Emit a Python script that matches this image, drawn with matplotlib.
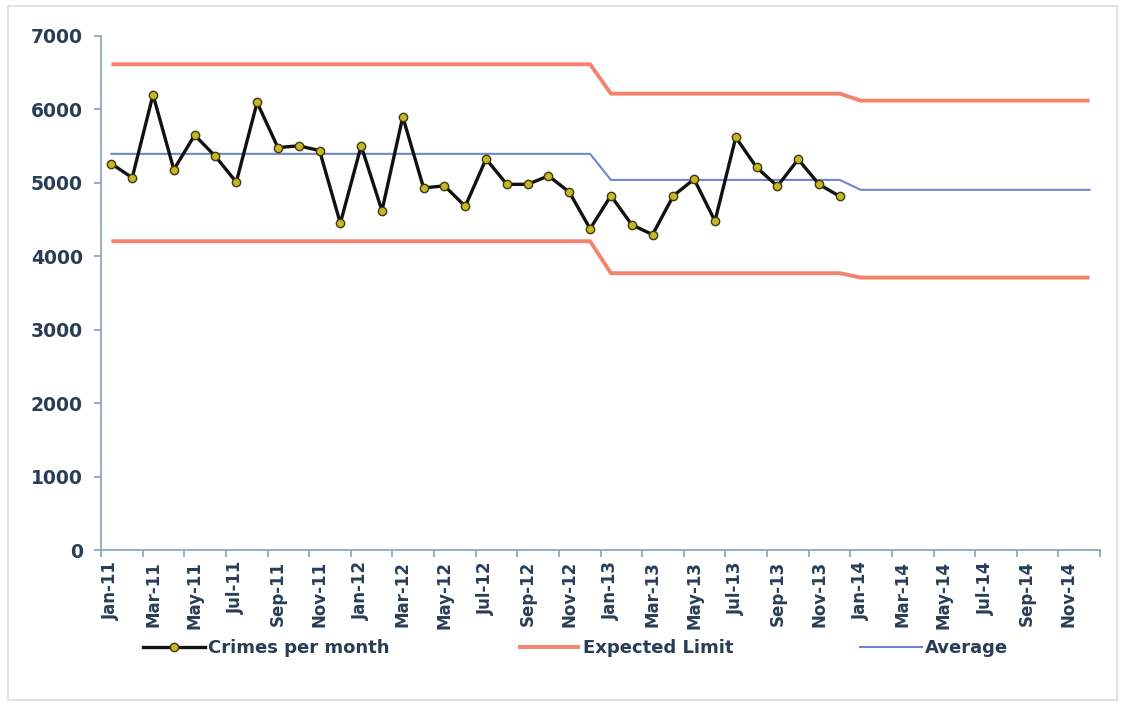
import matplotlib
matplotlib.use("Agg")
import matplotlib.pyplot as plt
from matplotlib.patches import Rectangle

plt.rcParams['font.family'] = ['DejaVu Sans']

months = ['Jan', 'Feb', 'Mar', 'Apr', 'May', 'Jun', 'Jul', 'Aug', 'Sep', 'Oct', 'Nov', 'Dec']
years = ['11', '12', '13', '14']
categories = [f"{m}-{y}" for y in years for m in months]

crimes = [5260, 5070, 6200, 5180, 5650, 5360, 5010, 6095, 5480, 5505, 5440, 4450,
          5505, 4620, 5900, 4930, 4960, 4680, 5325, 4980, 4980, 5095, 4875, 4375,
          4825, 4430, 4295, 4825, 5050, 4480, 5620, 5210, 4955, 5320, 4980, 4815]

upper_by_year = [6615, 6615, 6215, 6120]
average_by_year = [5395, 5395, 5040, 4905]
lower_by_year = [4205, 4205, 3770, 3710]

upper = [v for v in upper_by_year for _ in months]
average = [v for v in average_by_year for _ in months]
lower = [v for v in lower_by_year for _ in months]

legend_labels = ['Crimes per month', 'Expected Limit', 'Average']

text_color = '#2A3D55'
axis_color = '#8DA8C0'

fig = plt.figure(figsize=(11.25, 7.06), dpi=100)
fig.patches.append(Rectangle((8/1125, 6/706), 1109/1125, 694/706, transform=fig.transFigure,
                             fill=False, edgecolor='#D8DDE2', linewidth=1.2))
ax = fig.add_axes([101/1125, 1 - 550/706, (1100 - 101)/1125, (550 - 36)/706])

x = list(range(len(categories)))
h_up, = ax.plot(x, upper, color='#F4836D', linewidth=2.8, solid_capstyle='butt', zorder=2)
ax.plot(x, lower, color='#F4836D', linewidth=2.8, solid_capstyle='butt', zorder=2)
h_avg, = ax.plot(x, average, color='#6F86CC', linewidth=1.5, zorder=2)
h_cr, = ax.plot(x[:len(crimes)], crimes, color='#111111', linewidth=2.4, marker='o', markersize=6,
                markerfacecolor='#C8B624', markeredgecolor='#3B3A10', markeredgewidth=1.0,
                zorder=3)

ax.set_xlim(-0.5, len(categories) - 0.5)
ax.set_ylim(0, 7000)
ax.set_yticks(range(0, 7001, 1000))
ax.tick_params(axis='y', colors=axis_color, labelcolor=text_color, length=5, width=1.3, pad=8)
for lab in ax.get_yticklabels():
    lab.set_fontsize(13.5)
    lab.set_fontweight('bold')

ax.set_xticks(x[::2])
ax.set_xticklabels(categories[::2], rotation=90, fontsize=12, fontweight='bold', color=text_color)
ax.tick_params(axis='x', which='major', length=0, pad=8)
ax.set_xticks([i - 0.5 for i in x[::2]] + [len(categories) - 0.5], minor=True)
ax.tick_params(axis='x', which='minor', length=5, width=1.3, color=axis_color, direction='out')

for s in ['top', 'right']:
    ax.spines[s].set_visible(False)
for s in ['left', 'bottom']:
    ax.spines[s].set_color(axis_color)
    ax.spines[s].set_linewidth(1.3)

legend_x = [143, 518, 860]
for h, lab, lx in zip([h_cr, h_up, h_avg], legend_labels, legend_x):
    leg = fig.legend([h], [lab], loc='center left', bbox_to_anchor=(lx/1125, 1 - 648/706),
                     frameon=False, borderpad=0, borderaxespad=0,
                     prop={'size': 13, 'weight': 'bold'},
                     handlelength=3.43, handletextpad=0.17)
    for t in leg.get_texts():
        t.set_color(text_color)

fig.savefig('out.png', dpi=100)
